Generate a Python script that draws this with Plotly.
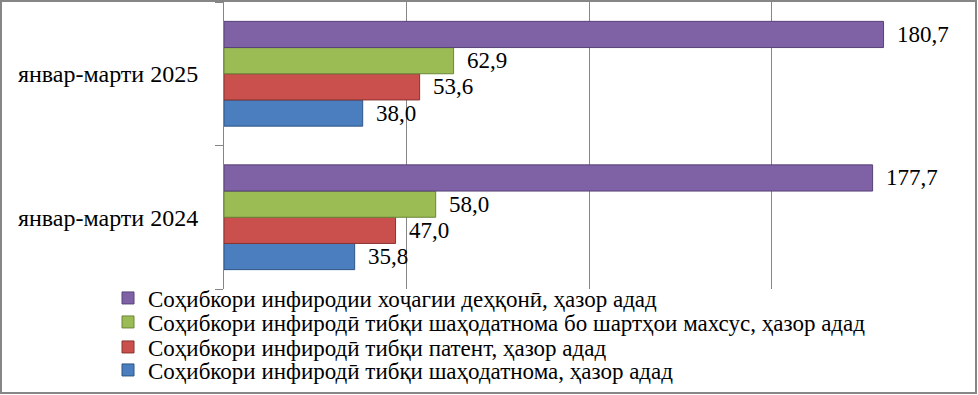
import plotly.graph_objects as go

categories = ["январ-марти 2024", "январ-марти 2025"]
series_names = [
    "Соҳибкори инфиродӣ тибқи шаҳодатнома, ҳазор адад",
    "Соҳибкори инфиродӣ тибқи патент, ҳазор адад",
    "Соҳибкори инфиродӣ тибқи шаҳодатнома бо шартҳои махсус, ҳазор адад",
    "Соҳибкори инфиродии хоҷагии деҳқонӣ, ҳазор адад",
]
values_certificate = [35.8, 38.0]
values_patent = [47.0, 53.6]
values_special = [58.0, 62.9]
values_dehkan = [177.7, 180.7]
x_ticks = [0, 50, 100, 150, 200]

series_values = [values_certificate, values_patent, values_special, values_dehkan]
fills = ["#4A7EBF", "#C9504C", "#9BBB55", "#7F62A6"]
edges = ["#2F5584", "#8A3331", "#6B8636", "#574278"]
legend_ids = ["legend4", "legend3", "legend2", "legend"]
legend_rows_px = [370, 347, 322, 298]  # row centres in page pixels

FONT = "Times New Roman, Liberation Serif, serif"
W, H = 978, 395
L, R, T, B = 224, 24, 2, 106
PW, PH = W - L - R, H - T - B

fig = go.Figure()
for name, vals, fc, ec, lid in zip(series_names, series_values, fills, edges, legend_ids):
    fig.add_trace(go.Bar(
        y=categories, x=vals, name=name, orientation="h",
        marker=dict(color=fc, line=dict(color=ec, width=1)),
        text=vals, texttemplate="\u00a0\u2009%{x:.1f}", textposition="outside",
        cliponaxis=False, constraintext="none",
        textfont=dict(family=FONT, size=23, color="#000000"),
        legend=lid, hoverinfo="skip",
    ))

legend_layout = {}
for lid, row in zip(legend_ids, legend_rows_px):
    legend_layout[lid] = dict(
        x=(108 - L) / PW, xanchor="left",
        y=(H - B - row) / PH, yanchor="middle",
        font=dict(family=FONT, size=23, color="#000000"),
        bgcolor="rgba(0,0,0,0)", itemwidth=30, borderwidth=0,
    )

fig.update_layout(
    width=W, height=H,
    margin=dict(l=L, r=R, t=T, b=B, autoexpand=False),
    barmode="group", bargap=0.27, bargroupgap=0,
    separators=", ",
    plot_bgcolor="white", paper_bgcolor="white",
    font=dict(family=FONT, size=20, color="#000000"),
    showlegend=True,
    xaxis=dict(
        range=[0, 200], tickvals=x_ticks, showticklabels=False,
        showgrid=True, gridcolor="#868686", gridwidth=1,
        zeroline=False, showline=False, ticks="", fixedrange=True,
    ),
    yaxis=dict(
        categoryorder="array", categoryarray=categories,
        showline=True, linecolor="#868686", linewidth=1,
        ticks="outside", tickson="boundaries", ticklen=8, tickcolor="#868686",
        ticklabelstandoff=20,
        tickfont=dict(family=FONT, size=24, color="#000000"),
        showgrid=False, zeroline=False, fixedrange=True,
    ),
    **legend_layout,
)

# outer chart border
fig.add_shape(
    type="rect", xref="paper", yref="paper",
    x0=(1 - L) / PW, x1=(W - 2 - L) / PW,
    y0=(H - B - (H - 2)) / PH, y1=(H - B - 1) / PH,
    line=dict(color="#868686", width=2), fillcolor="rgba(0,0,0,0)", layer="above",
)

fig.write_html("out.html", config={"displayModeBar": False},
               post_script="document.body.style.margin='0';")
